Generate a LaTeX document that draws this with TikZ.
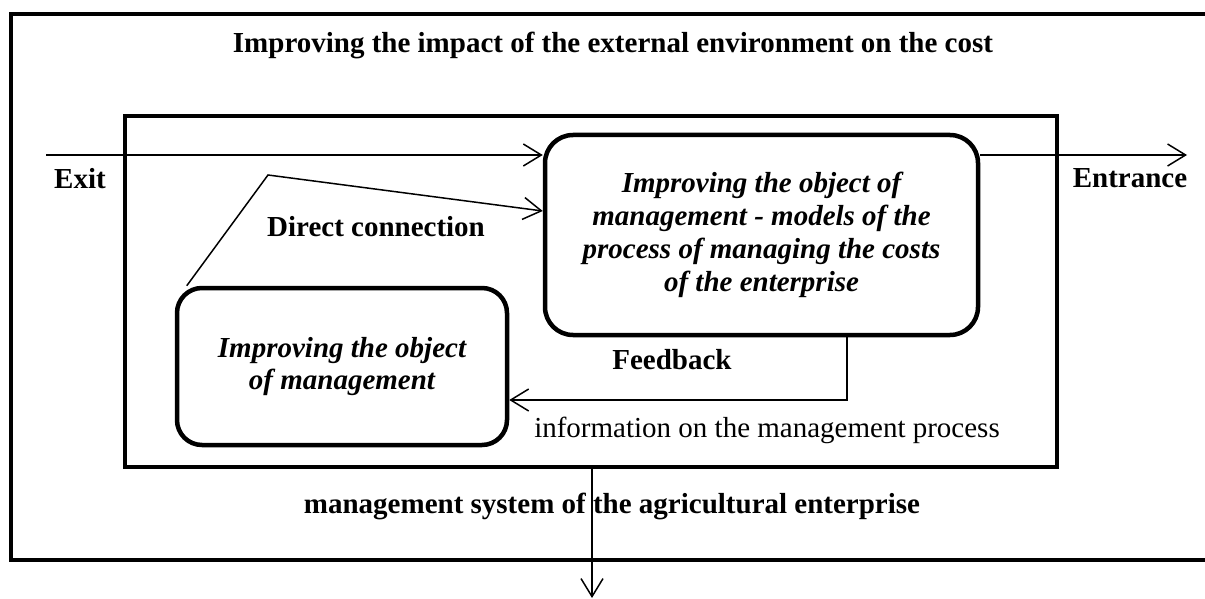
\documentclass[tikz,border=0pt]{standalone}
\usepackage{fontspec}
\setmainfont{Liberation Serif}
\usetikzlibrary{arrows.meta, positioning, calc}

\begin{document}
\begin{tikzpicture}[
    x=1pt, y=-1pt,
    frame/.style={draw, line width=4pt, inner sep=0pt},
    rbox/.style={draw, rounded corners=28pt, line width=4.5pt, align=center, inner sep=0pt, font=\fontsize{29}{33}\selectfont\bfseries\itshape},
    lbl/.style={font=\fontsize{29}{33}\selectfont\bfseries, anchor=base, inner sep=0pt},
    arr/.style={-{Straight Barb[length=18pt, width=22pt]}, line width=1.5pt}
]
\useasboundingbox (0,0) rectangle (1205,599);

% outer frame (runs past the right edge)
\draw[line width=4.5pt] (1215,14) -- (11,14) -- (11,560) -- (1215,560);
\node[lbl] (title) at (613,53) {Improving the impact of the external environment on the cost};

% management system
\node[frame, minimum width=932pt, minimum height=351pt] (system) at (591,291.5) {};
\node[lbl] (syslabel) at (612,513) {management system of the agricultural enterprise};

% object of management
\node[rbox, minimum width=433pt, minimum height=200pt] (models) at (761.5,235) {Improving the object of\\management - models of the\\process of managing the costs\\of the enterprise};
\node[rbox, rounded corners=25pt, minimum width=330pt, minimum height=157pt, font=\fontsize{29}{32}\selectfont\bfseries\itshape] (object) at (342,366.5) {Improving the object\\of management};

% labels
\node[lbl] (exit) at (80,188) {Exit};
\node[lbl] (entrance) at (1130,187) {Entrance};
\node[lbl] (direct) at (376,236) {Direct connection};
\node[lbl] (feedback) at (672,369) {Feedback};
\node[lbl, font=\fontsize{29}{33}\selectfont] (info) at (767,437) {information on the management process};

% connectors
\coordinate (in) at (46,155);
\coordinate (out) at (1187,155);
\coordinate (peak) at (268,175);
\coordinate (fbturn) at (847,400);
\coordinate (down) at (592,598);

\draw[arr] (in) -- (models.west |- in);
\draw[arr] (models.east |- in) -- (out);
\draw[arr] ([xshift=12pt]object.north west) -- (peak) -- ([yshift=24pt]models.west);
\draw[arr] (models.south -| fbturn) -- (fbturn) -- (object.east |- fbturn);
\draw[arr] (system.south -| down) -- (down);

\end{tikzpicture}
\end{document}
